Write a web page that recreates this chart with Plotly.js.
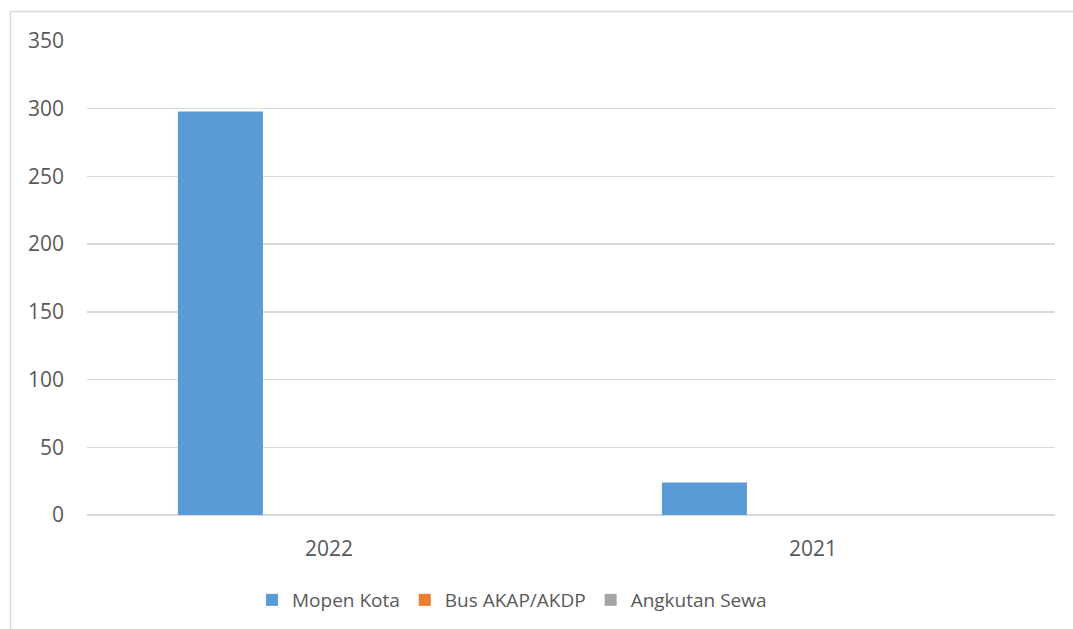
<!DOCTYPE html>
<html><head><meta charset="utf-8">
<script src="https://cdn.plot.ly/plotly-3.0.1.min.js"></script>
<style>html,body{margin:0;padding:0;background:#fff;overflow:hidden}#chart{width:1073px;height:629px}</style>
</head><body><div id="chart"></div>
<script>
const categories = ["2022", "2021"];
const seriesNames = ["Mopen Kota", "Bus AKAP/AKDP", "Angkutan Sewa"];
const mopenKota = [298, 24];
const busAkap = [0, 0];
const angkutanSewa = [0, 0];
const colors = ["#5b9bd5", "#ed7d31", "#a5a5a5"];
const seriesValues = [mopenKota, busAkap, angkutanSewa];

const traces = seriesNames.map((n, i) => ({
  type: 'bar', name: n, x: categories, y: seriesValues[i],
  marker: {color: colors[i]}, hoverinfo: 'none'
}));

const W = 1073, H = 629, L = 87, R = 18, T = 41, B = 114;
const pw = W - L - R, ph = H - T - B;
const px = v => (v - L) / pw, py = v => (H - B - v) / ph;

const layout = {
  width: W, height: H,
  margin: {l: L, r: R, t: T, b: B},
  paper_bgcolor: '#fff', plot_bgcolor: '#fff',
  font: {family: 'Open Sans, sans-serif', color: '#595959', size: 20},
  barmode: 'group', bargap: 0.327, bargroupgap: 0.217,
  showlegend: true,
  legend: {orientation: 'h', xref: 'container', yref: 'container', x: 252/W, xanchor: 'left',
           y: 1 - 600/H, yanchor: 'middle', font: {size: 19, color: '#595959'}, itemwidth: 30,
           traceorder: 'normal'},
  xaxis: {type: 'category', showgrid: false, zeroline: false, showline: false, ticks: '',
          ticklabelstandoff: 19, tickfont: {size: 21, color: '#595959'}, fixedrange: true},
  yaxis: {range: [0, 350], dtick: 50, tick0: 0, showgrid: true, gridcolor: '#d9d9d9', gridwidth: 1.3,
          zeroline: true, zerolinecolor: '#d9d9d9', zerolinewidth: 1.3, showline: false, ticks: '',
          ticklabelstandoff: 22, tickfont: {size: 21, color: '#595959'}, fixedrange: true},
  shapes: [{type: 'rect', xref: 'paper', yref: 'paper', x0: px(10.5), x1: px(1090), y0: py(11.5), y1: py(660),
            line: {color: '#d9d9d9', width: 1.5}, fillcolor: 'rgba(0,0,0,0)', layer: 'below'}]
};
Plotly.newPlot('chart', traces, layout, {staticPlot: true});
</script></body></html>
